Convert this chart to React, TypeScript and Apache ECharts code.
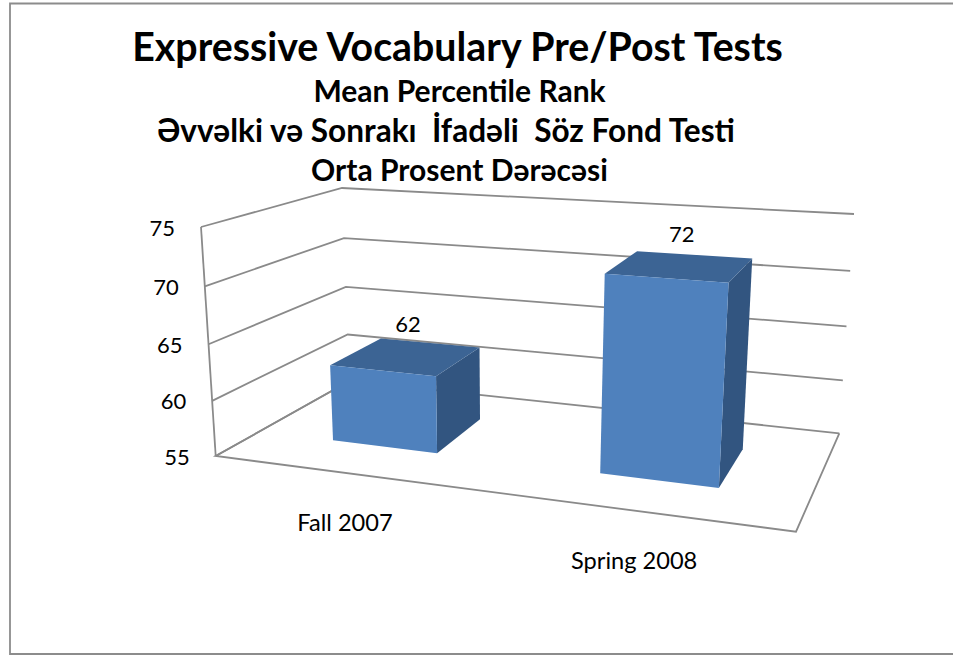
import React, { useEffect, useRef } from "react";
import * as echarts from "echarts";

const titleLines = [
  "Expressive Vocabulary Pre/Post Tests",
  "Mean Percentile Rank",
  "Əvvəlki və Sonrakı  İfadəli  Söz Fond Testi",
  "Orta Prosent Dərəcəsi",
];
const categories = ["Fall 2007", "Spring 2008"];
const values = [62, 72];
const yTicks = [55, 60, 65, 70, 75];

// Perspective box of the plot: screen positions of its eight corners
type P = [number, number];
const FLB: P = [215.7, 456];
const FRB: P = [796, 531.7];
const BLB: P = [349.5, 381];
const BRB: P = [839.3, 433.3];
const FLT: P = [201, 227];
const FRT: P = [813, 269];
const BLT: P = [342, 188];
const BRT: P = [854, 214];
const K_U = 1.14;
const K_V = 1.05;
const BAR_RATIO = 0.405;
const D_FRONT = 0.33;
const D_BACK = 0.74;
const FONT = "Lato, 'Noto Sans', sans-serif";
const GRID = "#8a8a8a";

const mob = (x: number, k: number) => x / (x + k * (1 - x));
const mix = (a: P, b: P, f: number): P => [a[0] + (b[0] - a[0]) * f, a[1] + (b[1] - a[1]) * f];

function project(t: number, d: number, s: number): P {
  const u = mob(t, K_U);
  const v = mob(s, K_V);
  const bottom = mix(mix(FLB, FRB, u), mix(BLB, BRB, u), d);
  const top = mix(mix(FLT, FRT, u), mix(BLT, BRT, u), d);
  return mix(bottom, top, v);
}

const norm = (params: any, api: any, cat: number, val: number) => {
  const c = api.coord([cat, val]);
  const sys = params.coordSys;
  return [(c[0] - sys.x) / sys.width, 1 - (c[1] - sys.y) / sys.height];
};

const line = (points: P[], z = 0) => ({
  type: "polyline",
  z2: z,
  shape: { points },
  style: { stroke: GRID, lineWidth: 1.8, fill: "none" },
});

const text = (str: string, x: number, y: number, align: string, fontSize: number) => ({
  type: "text",
  z2: 20,
  style: {
    text: str,
    x,
    y,
    align,
    verticalAlign: "middle",
    fill: "#000",
    fontFamily: FONT,
    fontSize,
  },
});

function renderWalls(params: any, api: any) {
  const tick = api.value(1);
  const [, s] = norm(params, api, 0, tick);
  const children: any[] = [line([project(0, 0, s), project(0, 1, s), project(1, 1, s)])];
  if (params.dataIndex === 0) {
    children.push(line([project(0, 1, 0), project(0, 0, 0), project(1, 0, 0), project(1, 1, 0)]));
    children.push(line([project(0, 0, 0), project(0, 0, 1)]));
  }
  const a = project(0, 0, s);
  children.push(text(String(tick), a[0] - 26, a[1], "right", 22));
  return { type: "group", children };
}

function renderBars(params: any, api: any) {
  const cat = api.value(0);
  const val = api.value(1);
  const [t, s] = norm(params, api, cat, val);
  const half = (api.size([1, 0])[0] / params.coordSys.width) * BAR_RATIO * 0.5;
  const t0 = t - half;
  const t1 = t + half;
  const poly = (points: P[], fill: string) => ({
    type: "polygon",
    z2: 10,
    shape: { points },
    style: { fill },
  });
  const fbl = project(t0, D_FRONT, 0);
  const fbr = project(t1, D_FRONT, 0);
  const ftl = project(t0, D_FRONT, s);
  const ftr = project(t1, D_FRONT, s);
  const bbr = project(t1, D_BACK, 0);
  const btl = project(t0, D_BACK, s);
  const btr = project(t1, D_BACK, s);
  const centre = project(t, (D_FRONT + D_BACK) / 2, s);
  const ground = project(t, 0, 0);
  return {
    type: "group",
    children: [
      poly([fbr, bbr, btr, ftr], "#325580"),
      poly([ftl, ftr, btr, btl], "#3C6494"),
      poly([fbl, fbr, ftr, ftl], "#4F81BD"),
      text(String(val), centre[0] + 2, centre[1] - 33, "center", 22),
      text(categories[cat], ground[0] - 2, ground[1] + 49, "center", 23.6),
    ],
  };
}

export default function App() {
  const ref = useRef<HTMLDivElement>(null);
  useEffect(() => {
    const chart = echarts.init(ref.current!, undefined, { renderer: "svg" });
    const titleAt = (i: number, top: number, size: number, left: number) => ({
      text: titleLines[i],
      left,
      top,
      textAlign: "center",
      textStyle: { fontFamily: FONT, fontWeight: "bold", fontSize: size, color: "#000" },
    });
    chart.setOption({
      animation: false,
      backgroundColor: "#fff",
      title: [
        titleAt(0, 21, 39.3, 452.5),
        titleAt(1, 70, 30, 454.5),
        titleAt(2, 109, 31.6, 441),
        titleAt(3, 149, 30, 454.5),
      ],
      grid: { left: 0, right: 0, top: 0, bottom: 0 },
      xAxis: { type: "category", data: categories, show: false },
      yAxis: { type: "value", min: 55, max: 75, interval: 5, show: false },
      graphic: [
        {
          type: "polyline",
          shape: { points: [[953, 3.5], [10, 3.5], [10, 654], [953, 654]] },
          style: { stroke: "#8c8c8c", lineWidth: 1.8, fill: "none" },
        },
      ],
      series: [
        {
          type: "custom",
          z: 1,
          renderItem: renderWalls,
          data: yTicks.map((v) => [0, v]),
          encode: { x: 0, y: 1 },
          silent: true,
        },
        {
          type: "custom",
          z: 2,
          renderItem: renderBars,
          data: values.map((v, i) => [i, v]),
          encode: { x: 0, y: 1 },
          silent: true,
        },
      ],
    });
    return () => chart.dispose();
  }, []);
  return <div ref={ref} style={{ position: "fixed", left: 0, top: 0, width: 953, height: 655 }} />;
}
